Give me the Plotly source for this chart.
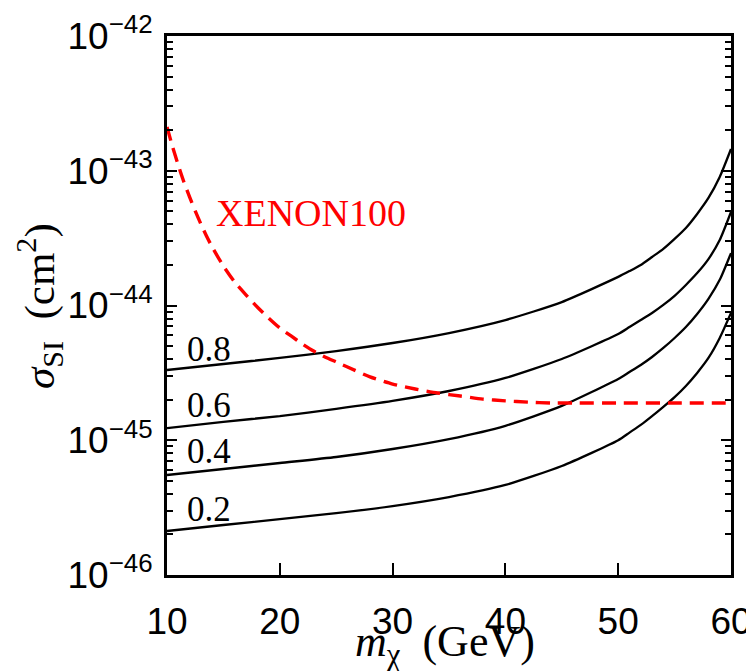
import plotly.graph_objects as go

# ---- data ----
m_chi = [10, 15, 20, 25, 30, 35, 40, 45, 50, 51, 52, 53, 54, 55, 56, 57, 58, 59, 60]
sigma_08 = [3.32e-45, 3.68e-45, 4.08e-45, 4.59e-45, 5.27e-45, 6.25e-45, 7.80e-45, 1.06e-44,
            1.63e-44, 1.80e-44, 2.00e-44, 2.29e-44, 2.63e-44, 3.12e-44, 3.76e-44, 4.78e-44,
            6.28e-44, 8.99e-44, 1.45e-43]
sigma_06 = [1.23e-45, 1.37e-45, 1.51e-45, 1.71e-45, 1.96e-45, 2.32e-45, 2.90e-45, 4.01e-45,
            6.14e-45, 6.92e-45, 7.80e-45, 8.80e-45, 1.01e-44, 1.18e-44, 1.42e-44, 1.74e-44,
            2.21e-44, 3.06e-44, 4.94e-44]
sigma_04 = [5.52e-46, 6.12e-46, 6.78e-46, 7.51e-46, 8.61e-46, 1.02e-45, 1.28e-45, 1.80e-45,
            2.85e-45, 3.21e-45, 3.62e-45, 4.15e-45, 4.84e-45, 5.74e-45, 6.92e-45, 8.65e-45,
            1.12e-44, 1.55e-44, 2.45e-44]
sigma_02 = [2.12e-46, 2.35e-46, 2.60e-46, 2.88e-46, 3.25e-46, 3.79e-46, 4.66e-46, 6.44e-46,
            1.00e-45, 1.14e-45, 1.30e-45, 1.51e-45, 1.77e-45, 2.09e-45, 2.53e-45, 3.16e-45,
            4.08e-45, 5.74e-45, 8.80e-45]
curve_labels = ["0.8", "0.6", "0.4", "0.2"]

xenon_m = [10, 10.5, 11, 11.5, 12, 12.5, 13, 13.5, 14, 15, 16, 17, 18, 19, 20, 21, 22, 23, 24,
           25, 26, 28, 30, 32, 34, 36, 38, 40, 42, 44, 46, 50, 55, 60]
xenon_sigma = [2.11e-43, 1.50e-43, 1.10e-43, 8.25e-44, 6.39e-44, 5.03e-44, 4.03e-44, 3.28e-44,
               2.72e-44, 1.96e-44, 1.49e-44, 1.20e-44, 9.75e-45, 8.08e-45, 6.81e-45, 5.94e-45,
               5.18e-45, 4.59e-45, 4.15e-45, 3.81e-45, 3.50e-45, 2.95e-45, 2.61e-45, 2.40e-45,
               2.24e-45, 2.13e-45, 2.02e-45, 1.96e-45, 1.92e-45, 1.89e-45, 1.89e-45, 1.89e-45,
               1.89e-45, 1.89e-45]

x_ticks = [10, 20, 30, 40, 50, 60]
y_ticks = [1e-46, 1e-45, 1e-44, 1e-43, 1e-42]
y_ticktext = ["10<sup>\u221246</sup>", "10<sup>\u221245</sup>", "10<sup>\u221244</sup>",
              "10<sup>\u221243</sup>", "10<sup>\u221242</sup>"]
y_minor = [k * 10.0 ** e for e in range(-46, -42) for k in range(2, 10)]

# ---- layout geometry (page body adds an 8px margin) ----
OFF = 8
W, H = 754 - OFF, 671 - OFF
L, R, T, B = 167 - OFF, 731 - OFF, 36 - OFF, 575 - OFF


def px(x, y):
    """screen pixel (reference) -> paper coords"""
    x -= OFF
    y -= OFF
    return (x - L) / (R - L), (B - y) / (B - T)


fig = go.Figure()
for ys in [sigma_08, sigma_06, sigma_04, sigma_02]:
    fig.add_trace(go.Scatter(x=m_chi, y=ys, mode="lines",
                             line=dict(color="black", width=2.3, shape="spline", smoothing=0.6),
                             showlegend=False, hoverinfo="skip"))
fig.add_trace(go.Scatter(x=xenon_m, y=xenon_sigma, mode="lines",
                         line=dict(color="#ff0000", width=3.4, dash="14px,8px", shape="spline", smoothing=0.6),
                         showlegend=False, hoverinfo="skip"))

serif = "Liberation Serif, Times New Roman, serif"
sans = "Liberation Sans, Arial, sans-serif"

label_pos = [(209, 350), (209, 405), (209, 451), (209, 509)]
annots = []
for txt, (lx, ly) in zip(curve_labels, label_pos):
    ax_, ay_ = px(lx, ly)
    annots.append(dict(x=ax_, y=ay_, xref="paper", yref="paper", text=txt, showarrow=False,
                       font=dict(family=serif, size=35, color="black"), xanchor="center", yanchor="middle"))
xx, xy = px(311, 213)
annots.append(dict(x=xx, y=xy, xref="paper", yref="paper", text="XENON100", showarrow=False,
                   font=dict(family=serif, size=38, color="#ff0000"), xanchor="center", yanchor="middle"))
tx, ty = px(445, 644)
annots.append(dict(x=tx, y=ty, xref="paper", yref="paper",
                   text="<i>m</i><sub>\u03c7</sub>&nbsp;&nbsp;(GeV)", showarrow=False,
                   font=dict(family=serif, size=44, color="black"), xanchor="center", yanchor="middle"))
yx, yy = px(39, 306)
annots.append(dict(x=yx, y=yy, xref="paper", yref="paper", textangle=-90,
                   text="<i>\u03c3</i><sub>SI</sub>&nbsp;&nbsp;(cm<sup>2</sup>)", showarrow=False,
                   font=dict(family=serif, size=43, color="black"), xanchor="center", yanchor="middle"))

fig.update_layout(
    width=W, height=H,
    margin=dict(l=L, r=W - R, t=T, b=H - B, pad=0, autoexpand=False),
    paper_bgcolor="white", plot_bgcolor="white",
    annotations=annots,
    xaxis=dict(range=[10, 60], tickvals=x_ticks, ticks="inside", ticklen=12, tickwidth=2,
               tickcolor="black", showline=True, linewidth=3, linecolor="black", mirror=True,
               showgrid=False, zeroline=False, ticklabelstandoff=12, automargin=False,
               tickfont=dict(family=sans, size=37, color="black")),
    yaxis=dict(type="log", range=[-46, -42], tickvals=y_ticks, ticktext=y_ticktext,
               ticks="inside", ticklen=10, tickwidth=2, tickcolor="black",
               showline=True, linewidth=3, linecolor="black", mirror="ticks",
               showgrid=False, zeroline=False, ticklabelstandoff=4, automargin=False,
               tickfont=dict(family=sans, size=37, color="black"),
               minor=dict(tickvals=y_minor, ticks="inside", ticklen=6, tickwidth=2,
                          tickcolor="black", showgrid=False)),
)

fig.write_html("out.html")
